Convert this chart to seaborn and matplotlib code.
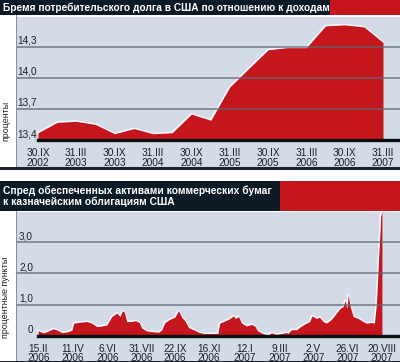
import numpy as np
import pandas as pd
import matplotlib
matplotlib.use('Agg')
import matplotlib.pyplot as plt
import matplotlib.dates as mdates
from matplotlib.patches import Rectangle
import seaborn as sns

# ---------------- data ----------------
debt_dates = ["2002-09-30", "2002-12-31", "2003-03-31", "2003-06-30", "2003-09-30",
              "2003-12-31", "2004-03-31", "2004-06-30", "2004-09-30", "2004-12-31",
              "2005-03-31", "2005-06-30", "2005-09-30", "2005-12-31", "2006-03-31",
              "2006-06-30", "2006-09-30", "2006-12-31", "2007-03-31"]
debt_values = [13.47, 13.57, 13.58, 13.55, 13.46, 13.51, 13.46, 13.47, 13.65, 13.59,
               13.91, 14.09, 14.27, 14.29, 14.29, 14.50, 14.51, 14.49, 14.34]
debt_ticks = ["2002-09-30", "2003-03-31", "2003-09-30", "2004-03-31", "2004-09-30",
              "2005-03-31", "2005-09-30", "2006-03-31", "2006-09-30", "2007-03-31"]
debt_tick_labels = ["30.IX\n2002", "31.III\n2003", "30.IX\n2003", "31.III\n2004", "30.IX\n2004",
                    "31.III\n2005", "30.IX\n2005", "31.III\n2006", "30.IX\n2006", "31.III\n2007"]
debt_yticks = [13.4, 13.7, 14.0, 14.3]
debt_ylabels = ["13,4", "13,7", "14,0", "14,3"]

spread_dates = ["2006-02-15", "2006-02-23", "2006-03-01", "2006-03-11", "2006-03-17",
                "2006-03-25", "2006-04-02", "2006-04-10", "2006-04-13", "2006-04-23",
                "2006-05-04", "2006-05-12", "2006-05-20", "2006-05-28", "2006-06-05",
                "2006-06-13", "2006-06-21", "2006-06-26", "2006-06-30", "2006-07-03",
                "2006-07-07", "2006-07-15", "2006-07-21", "2006-07-27", "2006-07-31",
                "2006-08-08", "2006-08-16", "2006-08-27", "2006-09-01", "2006-09-06",
                "2006-09-14", "2006-09-22", "2006-09-28", "2006-10-03", "2006-10-09",
                "2006-10-14", "2006-10-22", "2006-10-30", "2006-11-07", "2006-11-17",
                "2006-11-30", "2006-12-03", "2006-12-09", "2006-12-17", "2006-12-25",
                "2006-12-28", "2007-01-02", "2007-01-07", "2007-01-15", "2007-01-23",
                "2007-01-28", "2007-02-02", "2007-02-10", "2007-02-18", "2007-02-24",
                "2007-03-04", "2007-03-12", "2007-03-20", "2007-03-22", "2007-03-28",
                "2007-04-05", "2007-04-13", "2007-04-21", "2007-04-26", "2007-04-30",
                "2007-05-07", "2007-05-12", "2007-05-18", "2007-05-23", "2007-05-31",
                "2007-06-08", "2007-06-14", "2007-06-19", "2007-06-22", "2007-06-25",
                "2007-06-27", "2007-06-30", "2007-07-05", "2007-07-13", "2007-07-21",
                "2007-07-26", "2007-08-03", "2007-08-08", "2007-08-11", "2007-08-12",
                "2007-08-15", "2007-08-17", "2007-08-18", "2007-08-20"]
spread_values = [0.17, 0.10, 0.14, 0.23, 0.19, 0.11, 0.13, 0.18, 0.41, 0.44,
                 0.46, 0.41, 0.30, 0.32, 0.35, 0.62, 0.73, 0.62, 0.81, 0.76,
                 0.46, 0.46, 0.49, 0.43, 0.25, 0.16, 0.14, 0.12, 0.19, 0.43,
                 0.53, 0.60, 0.81, 0.60, 0.46, 0.27, 0.20, 0.12, 0.08, 0.08,
                 0.08, 0.41, 0.46, 0.53, 0.64, 0.56, 0.62, 0.41, 0.32, 0.37,
                 0.32, 0.16, 0.08, 0.03, 0.10, 0.05, 0.08, 0.11, 0.08, 0.20,
                 0.20, 0.32, 0.41, 0.46, 0.64, 0.56, 0.60, 0.46, 0.41, 0.53,
                 0.73, 0.88, 0.94, 1.13, 0.88, 1.31, 0.94, 0.62, 0.56, 0.46,
                 0.41, 0.43, 0.41, 0.99, 1.31, 2.59, 3.33, 3.81, 4.00]
spread_ticks = ["2006-02-15", "2006-04-11", "2006-06-06", "2006-07-31", "2006-09-22",
                "2006-11-16", "2007-01-12", "2007-03-09", "2007-05-02", "2007-06-26",
                "2007-08-20"]
spread_tick_labels = ["15.II\n2006", "11.IV\n2006", "6.VI\n2006", "31.VII\n2006", "22.IX\n2006",
                      "16.XI\n2006", "12.I\n2007", "9.III\n2007", "2.V\n2007", "26.VI\n2007",
                      "20.VIII\n2007"]
spread_yticks = [0, 1, 2, 3]
spread_ylabels = ["0", "1,0", "2,0", "3,0"]

title1 = "Бремя потребительского долга в США по отношению к доходам"
title2 = "Спред обеспеченных активами коммерческих бумаг\nк казначейским облигациям США"
ylabel1 = "проценты"
ylabel2 = "процентные пункты"

# ---------------- style ----------------
sns.set_style('white')
plt.rcParams['font.family'] = ['Liberation Sans', 'DejaVu Sans']

RED = '#c5161d'
DARK = '#0c1a25'
BG = '#d4dbe6'
GRID = '#5d6773'
TXT = '#1a1f26'

W, H = 400, 362
fig = plt.figure(figsize=(4.0, 3.62), dpi=100)


def rect(x0, y0, x1, y1, color, z=-5):
    fig.patches.append(Rectangle((x0 / W, 1 - y1 / H), (x1 - x0) / W, (y1 - y0) / H,
                                 transform=fig.transFigure, facecolor=color,
                                 edgecolor='none', zorder=z))


def axes_px(x0, y0, x1, y1):
    return fig.add_axes([x0 / W, 1 - y1 / H, (x1 - x0) / W, (y1 - y0) / H])


# ------- panel frames -------
rect(0, 0, 330, 15, DARK)
rect(330, 0, 400, 15, RED)
rect(17, 17, 400, 167, BG)
rect(16, 15, 17, 167, '#8a8f96')
rect(0, 167, 400, 170, '#1c232b')

rect(0, 181, 280, 211, DARK)
rect(280, 181, 400, 211, RED)
rect(17, 212, 400, 361, BG)
rect(16, 211, 17, 361, '#8a8f96')
rect(0, 361, 400, 362, '#1c232b')

fig.text(3 / W, 1 - 7.8 / H, title1, color='white', fontsize=7.3, fontweight='bold',
         va='center', ha='left')
fig.text(3 / W, 1 - 196 / H, title2, color='white', fontsize=7.4, fontweight='bold',
         va='center', ha='left', linespacing=1.05)
fig.text(6 / W, 1 - 121 / H, ylabel1, rotation=90, fontsize=6.4, color=TXT,
         va='center', ha='center')
fig.text(6 / W, 1 - 297 / H, ylabel2, rotation=90, fontsize=6.4, color=TXT,
         va='center', ha='center')


def panel(ax, dates, values, base, ylim, xlim, ticks, tlabels, yt, ylabs, label_x,
          tick_dir, pad, lsp):
    d = pd.DataFrame({'date': pd.to_datetime(dates), 'value': values})
    ax.set_facecolor(BG)
    ax.patch.set_alpha(0)
    for yv in yt[1:]:
        ax.axhline(yv, color=GRID, lw=1.1, zorder=4, alpha=0.85)
    sns.lineplot(data=d, x='date', y='value', ax=ax, color='#f4f8ff', lw=1.6,
                 zorder=2, legend=False)
    ax.fill_between(d['date'], d['value'], base, color=RED, lw=0, zorder=3)
    ax.set_xlim(pd.to_datetime(xlim[0]), pd.to_datetime(xlim[1]))
    ax.set_ylim(*ylim)
    for s in ['top', 'left', 'right']:
        ax.spines[s].set_visible(False)
    ax.spines['bottom'].set_color('#0a0f14')
    ax.spines['bottom'].set_linewidth(2.4)
    ax.spines['bottom'].set_zorder(6)
    ax.spines['bottom'].set_bounds(mdates.date2num(d['date'].iloc[0]),
                                   mdates.date2num(pd.to_datetime(xlim[1])))
    ax.set_xticks(pd.to_datetime(ticks))
    ax.set_xticklabels(tlabels, fontsize=7.3, color=TXT, linespacing=lsp)
    ax.tick_params(axis='x', direction=tick_dir, length=5, width=0.9,
                   color='#3a4048', pad=pad)
    ax.set_yticks([])
    ax.set_xlabel('')
    ax.set_ylabel('')
    tr = ax.get_yaxis_transform()
    for yv, lab in zip(yt, ylabs):
        ax.text(label_x, yv + (ylim[1] - ylim[0]) * 0.008, lab, transform=tr, ha='right',
                va='bottom', fontsize=7.2, color=TXT, zorder=7)


ax1 = axes_px(17, 17, 400, 140)
panel(ax1, debt_dates, debt_values, 13.4, (13.4, 14.586), ("2002-06-22", "2007-06-20"),
      debt_ticks, debt_tick_labels, debt_yticks, debt_ylabels, (37 - 17) / 383, 'inout',
      3.5, 0.95)

ax2 = axes_px(17, 212, 400, 336)
panel(ax2, spread_dates, spread_values, 0, (0, 3.96), ("2006-01-12", "2007-09-18"),
      spread_ticks, spread_tick_labels, spread_yticks, spread_ylabels, (33 - 17) / 383, 'out',
      1.0, 0.88)

fig.savefig('out.png', dpi=100)
